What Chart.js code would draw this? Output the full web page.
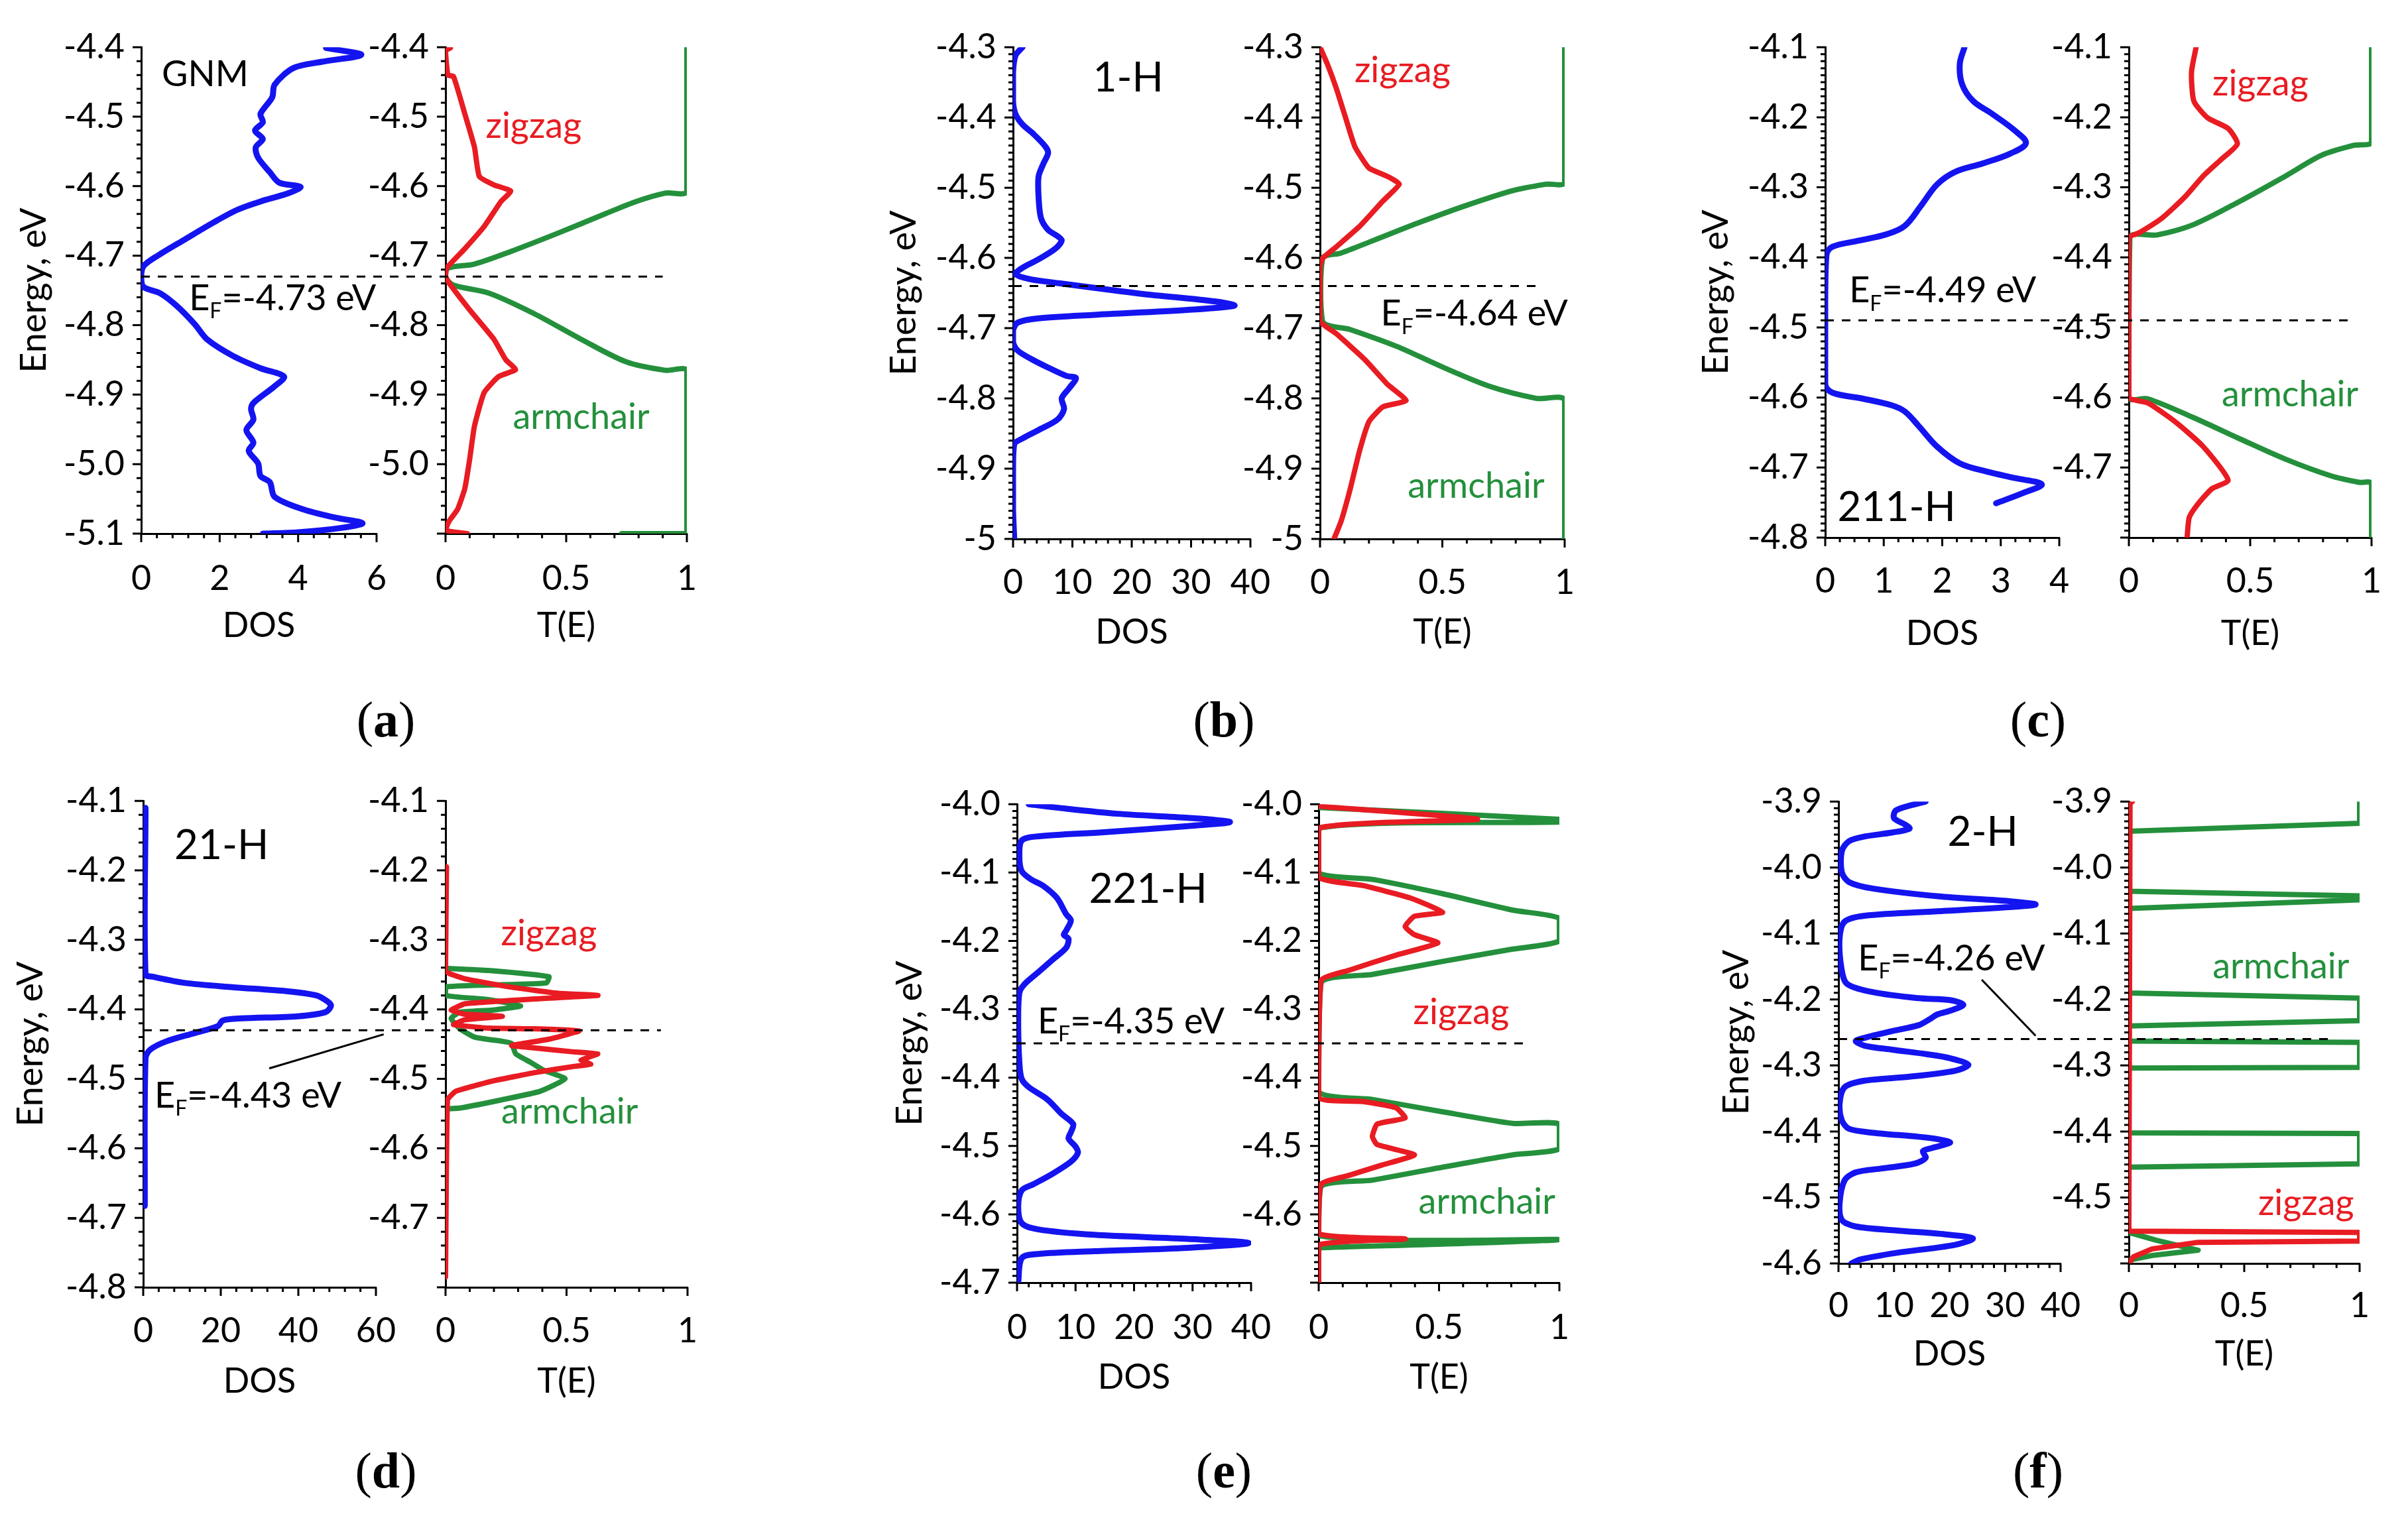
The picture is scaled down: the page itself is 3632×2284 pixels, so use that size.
<!DOCTYPE html>
<html><head><meta charset="utf-8">
<script src="https://cdn.jsdelivr.net/npm/chart.js@4.4.1/dist/chart.umd.min.js"></script>
<style>
html,body{margin:0;padding:0;background:#fff;}
body{width:3632px;height:2284px;position:relative;overflow:hidden;}
canvas{position:absolute;}
.lbl{position:absolute;font-family:"Liberation Serif",serif;font-size:76px;color:#000;transform:translate(-50%,-50%);white-space:nowrap;line-height:1;}
</style></head><body>
<script>
// ---------------- DATA ----------------
// tick labels
const aYLabels = ['-4.4','-4.5','-4.6','-4.7','-4.8','-4.9','-5.0','-5.1'];
const aTYLabels = ['-4.4','-4.5','-4.6','-4.7','-4.8','-4.9','-5.0'];
const bYLabels = ['-4.3','-4.4','-4.5','-4.6','-4.7','-4.8','-4.9','-5'];
const bTYLabels = ['-4.3','-4.4','-4.5','-4.6','-4.7','-4.8','-4.9','-5'];
const cYLabels = ['-4.1','-4.2','-4.3','-4.4','-4.5','-4.6','-4.7','-4.8'];
const cTYLabels = ['-4.1','-4.2','-4.3','-4.4','-4.5','-4.6','-4.7'];
const dYLabels = ['-4.1','-4.2','-4.3','-4.4','-4.5','-4.6','-4.7','-4.8'];
const dTYLabels = ['-4.1','-4.2','-4.3','-4.4','-4.5','-4.6','-4.7'];
const eYLabels = ['-4.0','-4.1','-4.2','-4.3','-4.4','-4.5','-4.6','-4.7'];
const eTYLabels = ['-4.0','-4.1','-4.2','-4.3','-4.4','-4.5','-4.6'];
const fYLabels = ['-3.9','-4.0','-4.1','-4.2','-4.3','-4.4','-4.5','-4.6'];
const fTYLabels = ['-3.9','-4.0','-4.1','-4.2','-4.3','-4.4','-4.5'];
const aDosXLabels = ['0','2','4','6'];
const bDosXLabels = ['0','10','20','30','40'];
const cDosXLabels = ['0','1','2','3','4'];
const dDosXLabels = ['0','20','40','60'];
const eDosXLabels = ['0','10','20','30','40'];
const fDosXLabels = ['0','10','20','30','40'];
const tXLabels = ['0','0.5','1'];

// Fermi levels (eV)
const fermi = {a:-4.73, b:-4.64, c:-4.49, d:-4.43, e:-4.35, f:-4.26};
const panelNames = {a:'GNM', b:'1-H', c:'211-H', d:'21-H', e:'221-H', f:'2-H'};

// (a) GNM
const aDosE = [-4.401,-4.411,-4.421,-4.43,-4.454,-4.472,-4.496,-4.508,-4.52,-4.532,-4.544,-4.559,-4.58,-4.595,-4.601,-4.61,-4.622,-4.634,-4.652,-4.676,-4.70,-4.715,-4.73,-4.745,-4.754,-4.772,-4.799,-4.82,-4.844,-4.862,-4.874,-4.888,-4.912,-4.921,-4.936,-4.951,-4.969,-4.981,-4.999,-5.017,-5.026,-5.047,-5.065,-5.077,-5.085,-5.092,-5.098,-5.1];
const aDosV = [4.71,5.61,4.6,3.88,3.4,3.34,3.04,3.1,2.9,3.1,2.92,2.98,3.28,3.52,4.06,3.76,3.04,2.45,1.85,1.13,0.42,0.06,0,0.06,0.48,0.9,1.37,1.67,2.33,3.04,3.64,3.4,2.86,2.8,2.86,2.68,2.86,2.74,2.98,3.04,3.28,3.4,4.12,4.95,5.64,5.07,4.0,3.1];
const aZzE = [-4.401,-4.405,-4.44,-4.442,-4.496,-4.544,-4.586,-4.598,-4.607,-4.622,-4.658,-4.69,-4.718,-4.73,-4.742,-4.778,-4.82,-4.85,-4.864,-4.874,-4.897,-4.945,-4.993,-5.035,-5.065,-5.083,-5.095,-5.1];
const aZzV = [0.02,0,0.01,0.033,0.08,0.12,0.14,0.2,0.27,0.23,0.16,0.08,0.004,0,0.02,0.1,0.2,0.25,0.29,0.22,0.16,0.12,0.1,0.08,0.05,0.013,0,0.09];
const aAcE = [-4.4,-4.607,-4.61,-4.622,-4.64,-4.667,-4.694,-4.712,-4.718,-4.73,-4.742,-4.754,-4.784,-4.82,-4.853,-4.865,-4.866,-5.1,-5.1];
const aAcV = [1,1,0.91,0.79,0.66,0.47,0.27,0.12,0.01,0,0.03,0.18,0.37,0.56,0.75,0.91,1,1,0.73];

// (b) 1-H
const bDosE = [-4.3,-4.312,-4.336,-4.377,-4.395,-4.41,-4.424,-4.442,-4.451,-4.466,-4.484,-4.513,-4.543,-4.56,-4.569,-4.575,-4.587,-4.602,-4.614,-4.623,-4.63,-4.634,-4.651,-4.662,-4.668,-4.674,-4.681,-4.686,-4.692,-4.703,-4.72,-4.732,-4.744,-4.756,-4.768,-4.771,-4.786,-4.8,-4.815,-4.83,-4.845,-4.857,-4.865,-4.898,-4.957,-5];
const bDosV = [1.6,0.4,0,0,0.4,1.6,3.5,5.5,5.9,5.1,4.3,4.3,4.7,5.9,7.5,8.2,7.1,4.3,1.6,0.4,2.7,5.9,21.6,34.1,37.3,29.4,13.7,4.3,0.8,0,0,0.8,3.1,5.9,9,10.6,9.4,8.2,8.6,7.5,4.3,1.6,0.2,0,0,0.2];
const bZzE = [-4.3,-4.324,-4.359,-4.401,-4.442,-4.472,-4.484,-4.495,-4.519,-4.555,-4.584,-4.601,-4.614,-4.69,-4.708,-4.744,-4.78,-4.803,-4.812,-4.833,-4.874,-4.928,-4.975,-5];
const bZzV = [0,0.03,0.067,0.105,0.143,0.2,0.276,0.324,0.257,0.162,0.067,0.01,0,0,0.067,0.181,0.276,0.352,0.257,0.2,0.162,0.124,0.086,0.057];
const bAcE = [-4.3,-4.492,-4.495,-4.504,-4.525,-4.549,-4.575,-4.593,-4.601,-4.69,-4.702,-4.726,-4.756,-4.783,-4.8,-4.803,-5];
const bAcV = [1,1,0.924,0.79,0.6,0.41,0.219,0.086,0.01,0.01,0.124,0.314,0.505,0.695,0.886,1,1];

// (c) 211-H
const cDosE = [-4.1,-4.124,-4.153,-4.177,-4.195,-4.219,-4.237,-4.252,-4.266,-4.278,-4.296,-4.326,-4.355,-4.367,-4.376,-4.385,-4.397,-4.462,-4.581,-4.593,-4.602,-4.611,-4.62,-4.641,-4.67,-4.694,-4.706,-4.715,-4.724,-4.736,-4.751];
const cDosV = [2.38,2.3,2.34,2.53,2.85,3.24,3.43,3.16,2.69,2.22,1.91,1.64,1.36,1.05,0.58,0.12,0.02,0,0,0.12,0.66,1.13,1.36,1.6,1.91,2.3,2.77,3.24,3.7,3.39,2.92];
const cZzE = [-4.1,-4.136,-4.177,-4.201,-4.216,-4.238,-4.26,-4.284,-4.314,-4.344,-4.365,-4.372,-4.599,-4.608,-4.635,-4.67,-4.718,-4.73,-4.751,-4.771,-4.8];
const cZzV = [0.277,0.258,0.268,0.325,0.409,0.447,0.381,0.306,0.23,0.136,0.042,0,0,0.079,0.192,0.306,0.409,0.343,0.287,0.249,0.24];
const cAcE = [-4.1,-4.235,-4.24,-4.254,-4.284,-4.32,-4.353,-4.368,-4.372,-4.6,-4.602,-4.629,-4.659,-4.688,-4.712,-4.721,-4.723,-4.8];
const cAcV = [1,1,0.928,0.796,0.645,0.457,0.268,0.117,0.004,0,0.079,0.268,0.457,0.645,0.834,0.947,1,1];

// (d) 21-H
const dDosE = [-4.11,-4.35,-4.353,-4.362,-4.368,-4.374,-4.38,-4.389,-4.395,-4.404,-4.41,-4.413,-4.416,-4.424,-4.434,-4.446,-4.458,-4.47,-4.683];
const dDosV = [0.6,0.6,2.4,10.8,22.9,37.3,44.6,47.6,48.4,47,39.8,25.3,20.5,19.3,13.3,6,1.8,0.6,0.4];
const dZzE = [-4.195,-4.345,-4.356,-4.368,-4.377,-4.38,-4.385,-4.392,-4.401,-4.407,-4.41,-4.415,-4.422,-4.427,-4.428,-4.431,-4.443,-4.452,-4.455,-4.461,-4.464,-4.473,-4.479,-4.482,-4.491,-4.503,-4.518,-4.53,-4.785];
const dZzV = [0.004,0,0.08,0.27,0.465,0.63,0.37,0.08,0.023,0.08,0.235,0.08,0.033,0.177,0.37,0.552,0.427,0.273,0.35,0.523,0.629,0.56,0.6,0.533,0.369,0.196,0.042,0.008,0];
const dAcE = [-4.341,-4.344,-4.353,-4.362,-4.365,-4.368,-4.38,-4.386,-4.395,-4.401,-4.404,-4.413,-4.428,-4.44,-4.446,-4.449,-4.464,-4.476,-4.488,-4.5,-4.518,-4.53,-4.542,-4.543];
const dAcV = [0,0.177,0.427,0.417,0.177,0,0,0.177,0.31,0.196,0.06,0.023,0.06,0.12,0.235,0.273,0.29,0.35,0.408,0.494,0.39,0.235,0.06,0.013];

// (e) 221-H
const eDosE = [-4.0,-4.005,-4.014,-4.02,-4.026,-4.032,-4.041,-4.047,-4.053,-4.077,-4.098,-4.11,-4.119,-4.137,-4.161,-4.17,-4.185,-4.191,-4.197,-4.21,-4.228,-4.246,-4.264,-4.276,-4.318,-4.378,-4.402,-4.414,-4.432,-4.453,-4.468,-4.48,-4.489,-4.501,-4.51,-4.523,-4.541,-4.556,-4.565,-4.589,-4.613,-4.622,-4.63,-4.636,-4.642,-4.649,-4.654,-4.658,-4.664,-4.7];
const eDosV = [2,6.8,17.2,29.2,36.4,29.2,14.8,3.6,0.8,0.4,0.8,2.4,4.4,6.8,8.4,9.2,8.4,8,8.8,8.4,6,3.6,1.2,0.4,0.2,0.4,0.8,2,5.2,7.6,9.6,9.2,8.8,10,10.4,9.2,6,2.8,0.8,0.2,0.8,3.6,13.2,29.2,39.6,29.2,13.2,3.6,0.8,0.2];
const eZzE = [-4.0,-4.003,-4.022,-4.035,-4.107,-4.119,-4.137,-4.158,-4.164,-4.179,-4.191,-4.203,-4.221,-4.243,-4.258,-4.429,-4.435,-4.444,-4.459,-4.468,-4.486,-4.498,-4.513,-4.528,-4.543,-4.556,-4.628,-4.636,-4.645,-4.7];
const eZzV = [0,0,0.66,0,0,0.184,0.379,0.515,0.398,0.359,0.398,0.495,0.32,0.126,0.01,0,0.184,0.32,0.359,0.243,0.223,0.243,0.398,0.262,0.126,0.01,0,0.36,0,0];
const eAcE = [-4.005,-4.022,-4.026,-4.035,-4.1,-4.11,-4.131,-4.155,-4.167,-4.2,-4.212,-4.23,-4.249,-4.261,-4.42,-4.432,-4.45,-4.467,-4.468,-4.504,-4.513,-4.531,-4.55,-4.559,-4.631,-4.637,-4.649];
const eAcV = [0,1,1,0,0,0.223,0.515,0.806,1,1,0.806,0.515,0.223,0.01,0,0.223,0.515,0.806,1,1,0.806,0.515,0.223,0.01,0,1,0];

// (f) 2-H
const fDosE = [-3.9,-3.913,-3.925,-3.935,-3.941,-3.947,-3.953,-3.96,-3.975,-4.007,-4.022,-4.032,-4.044,-4.051,-4.056,-4.06,-4.066,-4.073,-4.082,-4.107,-4.151,-4.176,-4.189,-4.198,-4.201,-4.208,-4.217,-4.223,-4.23,-4.239,-4.248,-4.258,-4.263,-4.27,-4.276,-4.283,-4.289,-4.299,-4.308,-4.317,-4.323,-4.333,-4.358,-4.383,-4.396,-4.402,-4.408,-4.412,-4.417,-4.425,-4.43,-4.44,-4.449,-4.456,-4.462,-4.474,-4.509,-4.534,-4.544,-4.55,-4.556,-4.562,-4.572,-4.584,-4.594,-4.6];
const fDosV = [15.7,10.4,10,12,12.8,9.6,4.7,1.9,0.6,0.6,1.9,6.3,18.5,30.7,35.5,30.7,18.5,4.7,1.1,0.2,0.5,1.5,6.3,14.4,20.1,22.5,20.1,17.7,16.4,14.4,9.6,4.7,3.1,4.7,9.6,16,20.1,23.4,21,12.8,4.7,1.1,0.2,0.6,1.9,6.3,14.4,18.1,20.1,16.9,15.2,15.7,13.6,7.9,3.1,1.1,0.2,0.6,3.1,10.4,19.3,24.2,20.9,10.4,3.9,2.3];
const fZzE = [-3.9,-3.903,-4.551,-4.553,-4.566,-4.568,-4.578,-4.59,-4.6];
const fZzV = [0.015,0.005,0,1,1,0.3,0.1,0.02,0];
const fAcE = [-3.9,-3.933,-3.945,-4.036,-4.043,-4.049,-4.062,-4.19,-4.198,-4.232,-4.24,-4.263,-4.265,-4.303,-4.304,-4.402,-4.403,-4.449,-4.454,-4.553,-4.565,-4.58,-4.588,-4.595];
const fAcV = [1,1,0,0,1,1,0,0,1,1,0,0,1,1,0,0,1,1,0,0,0.12,0.3,0.1,0];

// ---------------- STYLE / LAYOUT ----------------
const FONT = 'Lato';
const BLUE = '#1414f0', RED = '#e81c22', GREEN = '#24903c';
const TICKFS = 52, TITLEFS = 52, ENFS = 54, LBLFS = 54, HFS = 62;
Chart.defaults.font.family = FONT;
Chart.defaults.color = '#000';

function pts(E, V){ return E.map((e,i)=>({x:V[i], y:e})); }

function drawTicks(ctx, ca, s, horiz, minor, major){
  const n = Math.round((s.max - s.min)/minor);
  ctx.beginPath();
  for (let i=0;i<=n;i++){
    const v = s.min + i*minor;
    const r = v/major;
    const isMaj = Math.abs(r-Math.round(r)) < 1e-4;
    const len = isMaj ? 13 : 7;
    const p = s.getPixelForValue(v);
    if (horiz){ ctx.moveTo(p, ca.bottom); ctx.lineTo(p, ca.bottom+len); }
    else { ctx.moveTo(ca.left, p); ctx.lineTo(ca.left-len, p); }
  }
  ctx.stroke();
}

function drawTextItem(ctx, xs, ys, t){
  const x = xs.getPixelForValue(t.x), y = ys.getPixelForValue(t.y);
  ctx.fillStyle = t.color || '#000';
  ctx.textBaseline = 'middle';
  if (t.ef !== undefined){
    const fs = t.size;
    ctx.textAlign = 'left';
    ctx.font = fs + 'px ' + FONT;
    let cx = x;
    ctx.fillText('E', cx, y); cx += ctx.measureText('E').width;
    ctx.font = Math.round(fs*0.6) + 'px ' + FONT;
    ctx.fillText('F', cx, y + fs*0.36); cx += ctx.measureText('F').width;
    ctx.font = fs + 'px ' + FONT;
    ctx.fillText('=' + t.ef.toFixed(2) + ' eV', cx, y);
  } else {
    ctx.textAlign = 'center';
    ctx.font = t.size + 'px ' + FONT;
    ctx.fillText(t.t, x, y);
  }
}

function makeChart(p){
  const cv = document.createElement('canvas');
  cv.width = p.width; cv.height = p.height;
  cv.style.left = p.left + 'px'; cv.style.top = p.top + 'px';
  document.body.appendChild(cv);
  const yW = p.area.L - p.left;
  const xH = p.top + p.height - p.area.B;
  const padTop = p.area.T - p.top;
  const padRight = p.left + p.width - p.area.R;
  const deco = p.deco || {};
  const decoPlugin = {
    id: 'deco',
    afterDraw(chart){
      const ctx = chart.ctx, ca = chart.chartArea, xs = chart.scales.x, ys = chart.scales.y;
      ctx.save();
      ctx.strokeStyle = '#000'; ctx.lineWidth = 3; ctx.lineCap = 'butt';
      drawTicks(ctx, ca, xs, true, p.xMinor, p.xMajor);
      drawTicks(ctx, ca, ys, false, p.yMinor, p.yMajor);
      if (deco.ef){
        const y = ys.getPixelForValue(deco.ef.value);
        const d = deco.ef.from;
        const x0 = d.chart.scales.x.getPixelForValue(0) + d.left - p.left;
        const x1 = xs.getPixelForValue(deco.ef.xEnd);
        ctx.setLineDash([13, 12]); ctx.lineWidth = 3;
        ctx.beginPath(); ctx.moveTo(x0, y); ctx.lineTo(x1, y); ctx.stroke();
        ctx.setLineDash([]);
      }
      (deco.leaders || []).forEach(l => {
        ctx.lineWidth = 3;
        ctx.beginPath();
        ctx.moveTo(xs.getPixelForValue(l.x1), ys.getPixelForValue(l.y1));
        ctx.lineTo(xs.getPixelForValue(l.x2), ys.getPixelForValue(l.y2));
        ctx.stroke();
      });
      (deco.texts || []).forEach(t => drawTextItem(ctx, xs, ys, t));
      ctx.restore();
    }
  };
  const chart = new Chart(cv.getContext('2d'), {
    type: 'scatter',
    data: { datasets: p.datasets.map(d => ({
      data: d.data, borderColor: d.color, backgroundColor: d.color, borderWidth: d.width,
      showLine: true, pointRadius: 0, pointHoverRadius: 0, fill: false, tension: d.tension || 0,
      borderJoinStyle: 'round', borderCapStyle: 'round'
    })) },
    options: {
      responsive: false, animation: false, devicePixelRatio: 1, events: [],
      layout: { padding: { left: 0, top: padTop, right: padRight, bottom: 0 } },
      plugins: { legend: { display: false }, tooltip: { enabled: false } },
      scales: {
        x: {
          type: 'linear', position: 'bottom', min: p.xMin, max: p.xMax,
          afterBuildTicks: s => { s.ticks = p.xLabels.map(l => ({ value: parseFloat(l) })); },
          afterFit: s => { s.height = xH; },
          ticks: { autoSkip: false, maxRotation: 0, minRotation: 0, padding: p.xTickPad, color: '#000',
                   font: { family: FONT, size: TICKFS }, callback: (v, i) => p.xLabels[i] },
          grid: { display: false, drawTicks: false },
          border: { display: true, color: '#000', width: 3 },
          title: { display: true, text: p.xTitle, color: '#000', font: { family: FONT, size: TITLEFS }, padding: 0 }
        },
        y: {
          type: 'linear', position: 'left', min: p.yMin, max: p.yMax,
          afterBuildTicks: s => { s.ticks = p.yLabels.map(l => ({ value: parseFloat(l) })); },
          afterFit: s => { s.width = yW; },
          ticks: { autoSkip: false, padding: 25, color: '#000',
                   font: { family: FONT, size: TICKFS }, callback: (v, i) => p.yLabels[i] },
          grid: { display: false, drawTicks: false },
          border: { display: true, color: '#000', width: 3 },
          title: { display: !!p.yTitle, text: p.yTitle || '', color: '#000', font: { family: FONT, size: ENFS }, padding: 0 }
        }
      }
    },
    plugins: [decoPlugin]
  });
  return chart;
}

// panel layouts (page pixels)
const panels = [
  { id:'a', yMin:-5.1, yMax:-4.4, dosMax:6, T:60, B:805, dL:213, dR:568, tL:672, tR:1036,
    xLabY:873, titleY:944, enX:51, yMinor:0.02, dosMinor:0.4, dosMajor:2, letter:[582,1085],
    yLab:aYLabels, tyLab:aTYLabels, dxLab:aDosXLabels,
    dos:[{E:aDosE,V:aDosV}], zz:{E:aZzE,V:aZzV}, ac:{E:aAcE,V:aAcV}, ten:{dos:0.3, zz:0.15, ac:0.3},
    efEnd:0.9, efText:{on:'dos', x:1.22, y:-4.762},
    name:{x:1.63, y:-4.439, size:LBLFS},
    zzText:{x:0.365, y:-4.514}, acText:{x:0.562, y:-4.933}, leaders:[] },
  { id:'b', yMin:-5, yMax:-4.3, dosMax:40, T:60, B:813, dL:1528, dR:1886, tL:1991, tR:2360,
    xLabY:879, titleY:954, enX:1363, yMinor:0.01, dosMinor:2, dosMajor:10, letter:[1846,1085],
    yLab:bYLabels, tyLab:bTYLabels, dxLab:bDosXLabels,
    dos:[{E:bDosE,V:bDosV}], zz:{E:bZzE,V:bZzV}, ac:{E:bAcE,V:bAcV}, ten:{dos:0.3, zz:0.15, ac:0.3},
    efEnd:0.895, efText:{on:'te', x:0.248, y:-4.68},
    name:{x:19.4, y:-4.344, size:HFS},
    zzText:{x:0.337, y:-4.333}, acText:{x:0.638, y:-4.925}, leaders:[] },
  { id:'c', yMin:-4.8, yMax:-4.1, dosMax:4, T:60, B:811, dL:2753, dR:3106, tL:3211, tR:3577,
    xLabY:877, titleY:956, enX:2588, yMinor:0.01, dosMinor:0.25, dosMajor:1, letter:[3074,1085],
    yLab:cYLabels, tyLab:cTYLabels, dxLab:cDosXLabels,
    dos:[{E:cDosE,V:cDosV}], zz:{E:cZzE,V:cZzV}, ac:{E:cAcE,V:cAcV}, ten:{dos:0.35, zz:0.2, ac:0.3},
    efEnd:0.91, efText:{on:'dos', x:0.41, y:-4.448},
    name:{x:1.22, y:-4.757, size:HFS},
    zzText:{x:0.542, y:-4.152}, acText:{x:0.664, y:-4.596}, leaders:[] },
  { id:'d', yMin:-4.8, yMax:-4.1, dosMax:60, T:1197, B:1942, dL:216, dR:567, tL:672, tR:1037,
    xLabY:2008, titleY:2084, enX:46, yMinor:0.02, dosMinor:4, dosMajor:20, letter:[582,2218],
    yLab:dYLabels, tyLab:dTYLabels, dxLab:dDosXLabels,
    dos:[{E:dDosE,V:dDosV}], zz:{E:dZzE,V:dZzV}, ac:{E:dAcE,V:dAcV}, ten:{dos:0.3, zz:0.1, ac:0.15},
    efEnd:0.89, efText:{on:'dos', x:2.9, y:-4.525},
    name:{x:20.2, y:-4.165, size:HFS},
    zzText:{x:0.427, y:-4.291}, acText:{x:0.513, y:-4.548},
    leaders:[{x1:32.5, y1:-4.485, x2:62, y2:-4.436}] },
  { id:'e', yMin:-4.7, yMax:-4.0, dosMax:40, T:1202, B:1935, dL:1534, dR:1887, tL:1989, tR:2352,
    xLabY:2003, titleY:2078, enX:1372, yMinor:0.01, dosMinor:2, dosMajor:10, letter:[1846,2218],
    yLab:eYLabels, tyLab:eTYLabels, dxLab:eDosXLabels,
    dos:[{E:eDosE,V:eDosV}], zz:{E:eZzE,V:eZzV}, ac:{E:eAcE,V:eAcV}, ten:{dos:0.3, zz:0.15, ac:0.2},
    efEnd:0.88, efText:{on:'dos', x:3.5, y:-4.318},
    name:{x:22.4, y:-4.125, size:HFS},
    zzText:{x:0.592, y:-4.305}, acText:{x:0.699, y:-4.582}, leaders:[] },
  { id:'f', yMin:-4.6, yMax:-3.9, dosMax:40, T:1198, B:1906, dL:2773, dR:3108, tL:3211, tR:3559,
    xLabY:1970, titleY:2043, enX:2619, yMinor:0.01, dosMinor:2, dosMajor:10, letter:[3074,2218],
    yLab:fYLabels, tyLab:fTYLabels, dxLab:fDosXLabels,
    dos:[{E:fDosE,V:fDosV}], zz:{E:fZzE,V:fZzV}, ac:{E:fAcE,V:fAcV}, ten:{dos:0.3, zz:0, ac:0},
    efEnd:0.88, efText:{on:'dos', x:3.5, y:-4.138},
    name:{x:26, y:-3.947, size:HFS},
    zzText:{x:0.768, y:-4.509}, acText:{x:0.659, y:-4.151},
    leaders:[{x1:25.8, y1:-4.17, x2:35.5, y2:-4.255}] }
];

panels.forEach(P => {
  const topPad = 45;
  const dLeft = Math.round(P.enX - ENFS*1.2/2);
  const top = P.T - topPad;
  const bottom = Math.round(P.titleY + TITLEFS*1.2/2);
  const xTickPad = P.xLabY - P.B - TICKFS*1.2/2;
  const efItem = { ef: fermi[P.id], x: P.efText.x, y: P.efText.y, size: LBLFS, color:'#000' };
  const dosTexts = [{ t: panelNames[P.id], x: P.name.x, y: P.name.y, size: P.name.size, color:'#000' }];
  const teTexts = [
    { t:'zigzag', x:P.zzText.x, y:P.zzText.y, size:LBLFS, color:RED },
    { t:'armchair', x:P.acText.x, y:P.acText.y, size:LBLFS, color:GREEN }
  ];
  if (P.efText.on === 'dos') dosTexts.push(efItem); else teTexts.push(efItem);

  const dRight = P.dR + 90;
  const dos = makeChart({
    left: dLeft, top: top, width: dRight - dLeft, height: bottom - top,
    area: { L:P.dL, T:P.T, R:P.dR, B:P.B },
    xMin: 0, xMax: P.dosMax, yMin: P.yMin, yMax: P.yMax,
    xLabels: P.dxLab, yLabels: P.yLab, xTitle: 'DOS', yTitle: 'Energy, eV',
    xTickPad, xMinor: P.dosMinor, xMajor: P.dosMajor, yMinor: P.yMinor, yMajor: 0.1,
    datasets: P.dos.map(d => ({ data: pts(d.E, d.V), color: BLUE, width: 9, tension: P.ten.dos })),
    deco: { texts: dosTexts, leaders: P.leaders }
  });

  const tLeft = P.dL - 10;
  const tRight = P.tR + 60;
  makeChart({
    left: tLeft, top: top, width: tRight - tLeft, height: bottom - top,
    area: { L:P.tL, T:P.T, R:P.tR, B:P.B },
    xMin: 0, xMax: 1, yMin: P.yMin, yMax: P.yMax,
    xLabels: tXLabels, yLabels: P.tyLab, xTitle: 'T(E)', yTitle: null,
    xTickPad, xMinor: 0.1, xMajor: 0.5, yMinor: P.yMinor, yMajor: 0.1,
    datasets: [
      { data: pts(P.zz.E, P.zz.V), color: RED, width: 8, tension: P.ten.zz },
      { data: pts(P.ac.E, P.ac.V), color: GREEN, width: 8, tension: P.ten.ac }
    ],
    deco: { texts: teTexts, ef: { value: fermi[P.id], xEnd: P.efEnd, from: { chart: dos, left: dLeft } } }
  });

  const lab = document.createElement('div');
  lab.className = 'lbl';
  lab.style.left = P.letter[0] + 'px';
  lab.style.top = P.letter[1] + 'px';
  lab.innerHTML = '(<b>' + P.id + '</b>)';
  document.body.appendChild(lab);
});
</script>
</body></html>
